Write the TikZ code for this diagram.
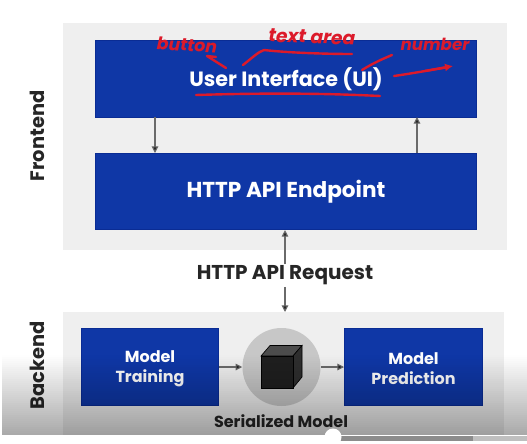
\documentclass[tikz,border=0pt]{standalone}
\usepackage{fontspec}
\setmainfont{Poppins}
\usetikzlibrary{arrows.meta,calc}
\definecolor{panelgray}{HTML}{EFEFEF}
\definecolor{boxblue}{HTML}{0F37A6}
\definecolor{boxedge}{HTML}{0A2C94}
\definecolor{inkred}{HTML}{DC1A2A}
\definecolor{linegray}{HTML}{6A6A6A}
\tikzset{
  panel/.style={fill=panelgray,draw=none,anchor=north west,inner sep=0pt},
  bluebox/.style={fill=boxblue,draw=boxedge,line width=.8pt,text=white,anchor=north west,inner sep=0pt,align=center,font=\bfseries},
  sidelabel/.style={rotate=90,font=\bfseries\fontsize{14.6}{16}\selectfont,text=black!85},
  blacklabel/.style={font=\bfseries\fontsize{15}{17}\selectfont,text=black!85},
  conn/.style={draw=linegray,line width=.8pt,-{Triangle[length=5pt,width=5pt,fill=black!85]}},
  ink/.style={draw=inkred,line width=1.8pt,line cap=round,line join=round},
  inktext/.style={text=inkred,font=\bfseries\itshape}
}
\begin{document}
\begin{tikzpicture}[x=0.75pt,y=-0.75pt]
\useasboundingbox (0,0) rectangle (527,443);
\fill[white] (0,0) rectangle (527,443);
\node[panel,minimum width=444*0.75pt,minimum height=227*0.75pt] (front) at (63,23) {};
\node[panel,minimum width=441*0.75pt,minimum height=123*0.75pt] (back) at (63,312) {};
\node[bluebox,minimum width=381*0.75pt,minimum height=77*0.75pt,font=\bfseries\fontsize{15.5}{17}\selectfont] (ui) at (95,40) {User Interface (UI)};
\node[bluebox,minimum width=381*0.75pt,minimum height=76*0.75pt,font=\bfseries\fontsize{16.2}{18}\selectfont] (api) at (95,153) {HTTP API Endpoint};
\node[bluebox,minimum width=137*0.75pt,minimum height=77*0.75pt,font=\bfseries\fontsize{12}{15.5}\selectfont] (train) at (81,328) {\rule{0pt}{11.5pt}Model\\Training};
\node[bluebox,minimum width=138*0.75pt,minimum height=77*0.75pt,font=\bfseries\fontsize{12}{15.5}\selectfont] (pred) at (344,328) {\rule{0pt}{11.5pt}Model\\Prediction};
\node[circle,fill=black!22,minimum size=78*0.75pt,inner sep=0pt] (ser) at (281.5,367) {};
\fill[black!70,draw=black,line width=.5pt] (261,356) -- (270,345.5) -- (302,345.5) -- (293,356) -- cycle;
\fill[black!82,draw=black,line width=.5pt] (293,356) -- (302,345.5) -- (302,377) -- (293,388) -- cycle;
\fill[black!88,draw=black,line width=.5pt] (261,356) rectangle (293,388);
\node[blacklabel,inner sep=1pt] (req) at (285,275.5) {HTTP API Request};
\node[font=\bfseries\fontsize{12}{14}\selectfont,text=black!85] (serlabel) at (281,421) {Serialized Model};
\node[sidelabel] (fl) at (37,136) {Frontend};
\node[sidelabel] (bl) at (37,365) {Backend};
\coordinate (dtop) at (155,117);
\coordinate (dbot) at (155,153);
\coordinate (utop) at (417,117);
\coordinate (ubot) at (417,153);
\draw[conn] (dtop) -- (dbot);
\draw[conn] (ubot) -- (utop);
\draw[conn] (req.north -| 285,0) -- (api.south -| 285,0);
\draw[conn] (req.south -| 285,0) -- (back.north -| 285,0);
\draw[conn] (train.east |- ser) -- (ser.west);
\draw[conn] (ser.east) -- (pred.west |- ser);
% overlay of the video player
\foreach \i in {0,...,39} {
  \fill[black,opacity=\i*0.0085+0.002] (0,355+2*\i) rectangle (527,357+2*\i);
}
\fill[white] (0,435) rectangle (527,443);
\fill[white] (0,355) rectangle (2,435);
\fill[black!45] (340,435.5) rectangle (473,441);
\fill[black!25] (473,435.5) rectangle (527,441);
\fill[white] (333,437) circle (8.5);
% handwritten annotations
\node[inktext,font=\bfseries\itshape\fontsize{13}{15}\selectfont,rotate=-3] (hb) at (187,45) {button};
\node[inktext,font=\bfseries\itshape\fontsize{14}{16}\selectfont,rotate=-2] (ht) at (312,37) {text area};
\node[inktext,font=\bfseries\itshape\fontsize{12.5}{15}\selectfont] (hn) at (435,44) {number};
\draw[ink] (226,68) -- (207,56) (207,56) -- (216,57);
\draw[ink] (243,65) .. controls (252,58) and (258,52) .. (264,50) .. controls (290,53) and (330,54) .. (352,54);
\draw[ink] (362,70) .. controls (375,62) and (385,58) .. (392,55);
\draw[ink] (394,76) .. controls (415,73) and (430,70) .. (449,67);
\draw[ink,-{Latex[length=6pt,width=6pt]}] (425,71) -- (453,66);
\draw[ink] (196,95) .. controls (260,93) and (320,93) .. (380,96);
\end{tikzpicture}
\end{document}
